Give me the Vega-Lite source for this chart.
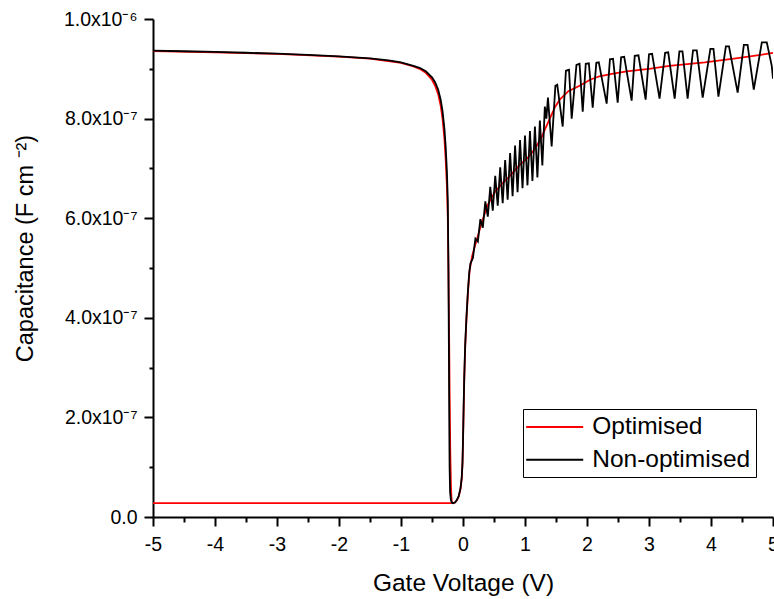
{
  "$schema": "https://vega.github.io/schema/vega-lite/v6.json",
  "width": 620,
  "height": 498,
  "autosize": "none",
  "padding": {"left": 153, "top": 19, "right": 1, "bottom": 82},
  "background": "white",
  "config": {
    "view": {"stroke": null},
    "font": "Liberation Sans"
  },
  "data": {
    "values": [
      {"s": "Optimised", "g": "low", "V": -5, "C": 0.028e-6},
      {"s": "Optimised", "g": "low", "V": -0.18, "C": 0.028e-6},

      {"s": "Optimised", "g": "main", "V": -5, "C": 0.9355e-6},
      {"s": "Optimised", "g": "main", "V": -4, "C": 0.933e-6},
      {"s": "Optimised", "g": "main", "V": -3, "C": 0.9298e-6},
      {"s": "Optimised", "g": "main", "V": -2, "C": 0.9245e-6},
      {"s": "Optimised", "g": "main", "V": -1.5, "C": 0.9205e-6},
      {"s": "Optimised", "g": "main", "V": -1.0, "C": 0.912e-6},
      {"s": "Optimised", "g": "main", "V": -0.8, "C": 0.905e-6},
      {"s": "Optimised", "g": "main", "V": -0.7, "C": 0.9e-6},
      {"s": "Optimised", "g": "main", "V": -0.6, "C": 0.892e-6},
      {"s": "Optimised", "g": "main", "V": -0.5, "C": 0.878e-6},
      {"s": "Optimised", "g": "main", "V": -0.45, "C": 0.866e-6},
      {"s": "Optimised", "g": "main", "V": -0.4, "C": 0.849e-6},
      {"s": "Optimised", "g": "main", "V": -0.36, "C": 0.826e-6},
      {"s": "Optimised", "g": "main", "V": -0.33, "C": 0.8e-6},
      {"s": "Optimised", "g": "main", "V": -0.3, "C": 0.76e-6},
      {"s": "Optimised", "g": "main", "V": -0.28, "C": 0.72e-6},
      {"s": "Optimised", "g": "main", "V": -0.26, "C": 0.665e-6},
      {"s": "Optimised", "g": "main", "V": -0.245, "C": 0.6e-6},
      {"s": "Optimised", "g": "main", "V": -0.235, "C": 0.5e-6},
      {"s": "Optimised", "g": "main", "V": -0.225, "C": 0.38e-6},
      {"s": "Optimised", "g": "main", "V": -0.215, "C": 0.24e-6},
      {"s": "Optimised", "g": "main", "V": -0.205, "C": 0.13e-6},
      {"s": "Optimised", "g": "main", "V": -0.195, "C": 0.065e-6},
      {"s": "Optimised", "g": "main", "V": -0.187, "C": 0.04e-6},
      {"s": "Optimised", "g": "main", "V": -0.18, "C": 0.03e-6},
      {"s": "Optimised", "g": "main", "V": -0.16, "C": 0.028e-6},
      {"s": "Optimised", "g": "main", "V": -0.13, "C": 0.029e-6},
      {"s": "Optimised", "g": "main", "V": -0.1, "C": 0.033e-6},
      {"s": "Optimised", "g": "main", "V": -0.07, "C": 0.041e-6},
      {"s": "Optimised", "g": "main", "V": -0.04, "C": 0.056e-6},
      {"s": "Optimised", "g": "main", "V": -0.02, "C": 0.078e-6},
      {"s": "Optimised", "g": "main", "V": -0.008, "C": 0.108e-6},
      {"s": "Optimised", "g": "main", "V": 0.0, "C": 0.15e-6},
      {"s": "Optimised", "g": "main", "V": 0.01, "C": 0.215e-6},
      {"s": "Optimised", "g": "main", "V": 0.02, "C": 0.275e-6},
      {"s": "Optimised", "g": "main", "V": 0.035, "C": 0.34e-6},
      {"s": "Optimised", "g": "main", "V": 0.055, "C": 0.395e-6},
      {"s": "Optimised", "g": "main", "V": 0.08, "C": 0.452e-6},
      {"s": "Optimised", "g": "main", "V": 0.108, "C": 0.497e-6},
      {"s": "Optimised", "g": "main", "V": 0.15, "C": 0.525e-6},
      {"s": "Optimised", "g": "main", "V": 0.19, "C": 0.543e-6},
      {"s": "Optimised", "g": "main", "V": 0.25, "C": 0.569e-6},
      {"s": "Optimised", "g": "main", "V": 0.3, "C": 0.591e-6},
      {"s": "Optimised", "g": "main", "V": 0.4, "C": 0.627e-6},
      {"s": "Optimised", "g": "main", "V": 0.51, "C": 0.652e-6},
      {"s": "Optimised", "g": "main", "V": 0.62, "C": 0.668e-6},
      {"s": "Optimised", "g": "main", "V": 0.75, "C": 0.684e-6},
      {"s": "Optimised", "g": "main", "V": 0.9, "C": 0.705e-6},
      {"s": "Optimised", "g": "main", "V": 1.05, "C": 0.722e-6},
      {"s": "Optimised", "g": "main", "V": 1.15, "C": 0.738e-6},
      {"s": "Optimised", "g": "main", "V": 1.25, "C": 0.758e-6},
      {"s": "Optimised", "g": "main", "V": 1.32, "C": 0.778e-6},
      {"s": "Optimised", "g": "main", "V": 1.4, "C": 0.8e-6},
      {"s": "Optimised", "g": "main", "V": 1.48, "C": 0.822e-6},
      {"s": "Optimised", "g": "main", "V": 1.56, "C": 0.838e-6},
      {"s": "Optimised", "g": "main", "V": 1.7, "C": 0.855e-6},
      {"s": "Optimised", "g": "main", "V": 1.88, "C": 0.866e-6},
      {"s": "Optimised", "g": "main", "V": 2.05, "C": 0.878e-6},
      {"s": "Optimised", "g": "main", "V": 2.2, "C": 0.885e-6},
      {"s": "Optimised", "g": "main", "V": 2.4, "C": 0.89e-6},
      {"s": "Optimised", "g": "main", "V": 2.64, "C": 0.895e-6},
      {"s": "Optimised", "g": "main", "V": 3.0, "C": 0.9e-6},
      {"s": "Optimised", "g": "main", "V": 3.33, "C": 0.906e-6},
      {"s": "Optimised", "g": "main", "V": 3.9, "C": 0.913e-6},
      {"s": "Optimised", "g": "main", "V": 4.4, "C": 0.921e-6},
      {"s": "Optimised", "g": "main", "V": 4.8, "C": 0.928e-6},
      {"s": "Optimised", "g": "main", "V": 5.0, "C": 0.932e-6},

      {"s": "Non-optimised", "g": "main", "V": -5, "C": 0.9365e-6},
      {"s": "Non-optimised", "g": "main", "V": -4.5, "C": 0.9352e-6},
      {"s": "Non-optimised", "g": "main", "V": -4, "C": 0.9338e-6},
      {"s": "Non-optimised", "g": "main", "V": -3.5, "C": 0.9322e-6},
      {"s": "Non-optimised", "g": "main", "V": -3, "C": 0.9303e-6},
      {"s": "Non-optimised", "g": "main", "V": -2.5, "C": 0.928e-6},
      {"s": "Non-optimised", "g": "main", "V": -2, "C": 0.925e-6},
      {"s": "Non-optimised", "g": "main", "V": -1.5, "C": 0.921e-6},
      {"s": "Non-optimised", "g": "main", "V": -1.2, "C": 0.917e-6},
      {"s": "Non-optimised", "g": "main", "V": -1.0, "C": 0.913e-6},
      {"s": "Non-optimised", "g": "main", "V": -0.8, "C": 0.906e-6},
      {"s": "Non-optimised", "g": "main", "V": -0.7, "C": 0.902e-6},
      {"s": "Non-optimised", "g": "main", "V": -0.6, "C": 0.895e-6},
      {"s": "Non-optimised", "g": "main", "V": -0.5, "C": 0.883e-6},
      {"s": "Non-optimised", "g": "main", "V": -0.45, "C": 0.873e-6},
      {"s": "Non-optimised", "g": "main", "V": -0.4, "C": 0.858e-6},
      {"s": "Non-optimised", "g": "main", "V": -0.36, "C": 0.838e-6},
      {"s": "Non-optimised", "g": "main", "V": -0.33, "C": 0.815e-6},
      {"s": "Non-optimised", "g": "main", "V": -0.3, "C": 0.78e-6},
      {"s": "Non-optimised", "g": "main", "V": -0.28, "C": 0.745e-6},
      {"s": "Non-optimised", "g": "main", "V": -0.26, "C": 0.695e-6},
      {"s": "Non-optimised", "g": "main", "V": -0.245, "C": 0.635e-6},
      {"s": "Non-optimised", "g": "main", "V": -0.235, "C": 0.5e-6},
      {"s": "Non-optimised", "g": "main", "V": -0.228, "C": 0.35e-6},
      {"s": "Non-optimised", "g": "main", "V": -0.222, "C": 0.2e-6},
      {"s": "Non-optimised", "g": "main", "V": -0.216, "C": 0.1e-6},
      {"s": "Non-optimised", "g": "main", "V": -0.208, "C": 0.05e-6},
      {"s": "Non-optimised", "g": "main", "V": -0.195, "C": 0.034e-6},
      {"s": "Non-optimised", "g": "main", "V": -0.18, "C": 0.029e-6},
      {"s": "Non-optimised", "g": "main", "V": -0.16, "C": 0.0275e-6},
      {"s": "Non-optimised", "g": "main", "V": -0.13, "C": 0.029e-6},
      {"s": "Non-optimised", "g": "main", "V": -0.1, "C": 0.034e-6},
      {"s": "Non-optimised", "g": "main", "V": -0.07, "C": 0.042e-6},
      {"s": "Non-optimised", "g": "main", "V": -0.04, "C": 0.058e-6},
      {"s": "Non-optimised", "g": "main", "V": -0.02, "C": 0.08e-6},
      {"s": "Non-optimised", "g": "main", "V": -0.008, "C": 0.11e-6},
      {"s": "Non-optimised", "g": "main", "V": 0.0, "C": 0.155e-6},
      {"s": "Non-optimised", "g": "main", "V": 0.01, "C": 0.22e-6},
      {"s": "Non-optimised", "g": "main", "V": 0.02, "C": 0.28e-6},
      {"s": "Non-optimised", "g": "main", "V": 0.035, "C": 0.345e-6},
      {"s": "Non-optimised", "g": "main", "V": 0.055, "C": 0.4e-6},
      {"s": "Non-optimised", "g": "main", "V": 0.08, "C": 0.455e-6},
      {"s": "Non-optimised", "g": "main", "V": 0.1, "C": 0.49e-6},
      {"s": "Non-optimised", "g": "main", "V": 0.12, "C": 0.509e-6},
      {"s": "Non-optimised", "g": "main", "V": 0.16, "C": 0.52e-6},
      {"s": "Non-optimised", "g": "main", "V": 0.2, "C": 0.559e-6},
      {"s": "Non-optimised", "g": "main", "V": 0.24, "C": 0.553e-6},
      {"s": "Non-optimised", "g": "main", "V": 0.28, "C": 0.598e-6},
      {"s": "Non-optimised", "g": "main", "V": 0.32, "C": 0.581e-6},
      {"s": "Non-optimised", "g": "main", "V": 0.36, "C": 0.634e-6},
      {"s": "Non-optimised", "g": "main", "V": 0.4, "C": 0.603e-6},
      {"s": "Non-optimised", "g": "main", "V": 0.44, "C": 0.663e-6},
      {"s": "Non-optimised", "g": "main", "V": 0.48, "C": 0.615e-6},
      {"s": "Non-optimised", "g": "main", "V": 0.52, "C": 0.685e-6},
      {"s": "Non-optimised", "g": "main", "V": 0.56, "C": 0.625e-6},
      {"s": "Non-optimised", "g": "main", "V": 0.6, "C": 0.702e-6},
      {"s": "Non-optimised", "g": "main", "V": 0.64, "C": 0.63e-6},
      {"s": "Non-optimised", "g": "main", "V": 0.68, "C": 0.717e-6},
      {"s": "Non-optimised", "g": "main", "V": 0.72, "C": 0.637e-6},
      {"s": "Non-optimised", "g": "main", "V": 0.76, "C": 0.731e-6},
      {"s": "Non-optimised", "g": "main", "V": 0.8, "C": 0.644e-6},
      {"s": "Non-optimised", "g": "main", "V": 0.84, "C": 0.746e-6},
      {"s": "Non-optimised", "g": "main", "V": 0.88, "C": 0.652e-6},
      {"s": "Non-optimised", "g": "main", "V": 0.92, "C": 0.757e-6},
      {"s": "Non-optimised", "g": "main", "V": 0.96, "C": 0.66e-6},
      {"s": "Non-optimised", "g": "main", "V": 1.0, "C": 0.766e-6},
      {"s": "Non-optimised", "g": "main", "V": 1.04, "C": 0.666e-6},
      {"s": "Non-optimised", "g": "main", "V": 1.08, "C": 0.775e-6},
      {"s": "Non-optimised", "g": "main", "V": 1.12, "C": 0.675e-6},
      {"s": "Non-optimised", "g": "main", "V": 1.16, "C": 0.784e-6},
      {"s": "Non-optimised", "g": "main", "V": 1.2, "C": 0.682e-6},
      {"s": "Non-optimised", "g": "main", "V": 1.24, "C": 0.796e-6},
      {"s": "Non-optimised", "g": "main", "V": 1.28, "C": 0.706e-6},
      {"s": "Non-optimised", "g": "main", "V": 1.32, "C": 0.824e-6},
      {"s": "Non-optimised", "g": "main", "V": 1.345, "C": 0.8e-6},
      {"s": "Non-optimised", "g": "main", "V": 1.37, "C": 0.842e-6},
      {"s": "Non-optimised", "g": "main", "V": 1.43, "C": 0.744e-6},
      {"s": "Non-optimised", "g": "main", "V": 1.49, "C": 0.866e-6},
      {"s": "Non-optimised", "g": "main", "V": 1.52, "C": 0.868e-6},
      {"s": "Non-optimised", "g": "main", "V": 1.608, "C": 0.784e-6},
      {"s": "Non-optimised", "g": "main", "V": 1.66, "C": 0.896e-6},
      {"s": "Non-optimised", "g": "main", "V": 1.71, "C": 0.898e-6},
      {"s": "Non-optimised", "g": "main", "V": 1.753, "C": 0.8e-6},
      {"s": "Non-optimised", "g": "main", "V": 1.83, "C": 0.908e-6},
      {"s": "Non-optimised", "g": "main", "V": 1.88, "C": 0.91e-6},
      {"s": "Non-optimised", "g": "main", "V": 1.931, "C": 0.814e-6},
      {"s": "Non-optimised", "g": "main", "V": 1.98, "C": 0.91e-6},
      {"s": "Non-optimised", "g": "main", "V": 2.03, "C": 0.911e-6},
      {"s": "Non-optimised", "g": "main", "V": 2.092, "C": 0.822e-6},
      {"s": "Non-optimised", "g": "main", "V": 2.15, "C": 0.912e-6},
      {"s": "Non-optimised", "g": "main", "V": 2.19, "C": 0.913e-6},
      {"s": "Non-optimised", "g": "main", "V": 2.317, "C": 0.83e-6},
      {"s": "Non-optimised", "g": "main", "V": 2.37, "C": 0.919e-6},
      {"s": "Non-optimised", "g": "main", "V": 2.42, "C": 0.92e-6},
      {"s": "Non-optimised", "g": "main", "V": 2.495, "C": 0.832e-6},
      {"s": "Non-optimised", "g": "main", "V": 2.55, "C": 0.923e-6},
      {"s": "Non-optimised", "g": "main", "V": 2.6, "C": 0.924e-6},
      {"s": "Non-optimised", "g": "main", "V": 2.72, "C": 0.836e-6},
      {"s": "Non-optimised", "g": "main", "V": 2.77, "C": 0.926e-6},
      {"s": "Non-optimised", "g": "main", "V": 2.83, "C": 0.927e-6},
      {"s": "Non-optimised", "g": "main", "V": 2.946, "C": 0.838e-6},
      {"s": "Non-optimised", "g": "main", "V": 3.0, "C": 0.929e-6},
      {"s": "Non-optimised", "g": "main", "V": 3.05, "C": 0.93e-6},
      {"s": "Non-optimised", "g": "main", "V": 3.17, "C": 0.84e-6},
      {"s": "Non-optimised", "g": "main", "V": 3.26, "C": 0.932e-6},
      {"s": "Non-optimised", "g": "main", "V": 3.31, "C": 0.933e-6},
      {"s": "Non-optimised", "g": "main", "V": 3.414, "C": 0.84e-6},
      {"s": "Non-optimised", "g": "main", "V": 3.49, "C": 0.935e-6},
      {"s": "Non-optimised", "g": "main", "V": 3.54, "C": 0.935e-6},
      {"s": "Non-optimised", "g": "main", "V": 3.623, "C": 0.84e-6},
      {"s": "Non-optimised", "g": "main", "V": 3.71, "C": 0.937e-6},
      {"s": "Non-optimised", "g": "main", "V": 3.77, "C": 0.937e-6},
      {"s": "Non-optimised", "g": "main", "V": 3.866, "C": 0.842e-6},
      {"s": "Non-optimised", "g": "main", "V": 3.99, "C": 0.94e-6},
      {"s": "Non-optimised", "g": "main", "V": 4.04, "C": 0.94e-6},
      {"s": "Non-optimised", "g": "main", "V": 4.12, "C": 0.844e-6},
      {"s": "Non-optimised", "g": "main", "V": 4.24, "C": 0.945e-6},
      {"s": "Non-optimised", "g": "main", "V": 4.29, "C": 0.945e-6},
      {"s": "Non-optimised", "g": "main", "V": 4.43, "C": 0.852e-6},
      {"s": "Non-optimised", "g": "main", "V": 4.53, "C": 0.948e-6},
      {"s": "Non-optimised", "g": "main", "V": 4.59, "C": 0.948e-6},
      {"s": "Non-optimised", "g": "main", "V": 4.69, "C": 0.858e-6},
      {"s": "Non-optimised", "g": "main", "V": 4.82, "C": 0.953e-6},
      {"s": "Non-optimised", "g": "main", "V": 4.9, "C": 0.953e-6},
      {"s": "Non-optimised", "g": "main", "V": 4.98, "C": 0.906e-6},
      {"s": "Non-optimised", "g": "main", "V": 5.0, "C": 0.88e-6}
    ]
  },
  "encoding": {
    "x": {
      "field": "V",
      "type": "quantitative",
      "scale": {"domain": [-5, 5], "nice": false, "zero": false},
      "axis": {
        "title": "Gate Voltage (V)",
        "values": [-5, -4.5, -4, -3.5, -3, -2.5, -2, -1.5, -1, -0.5, 0, 0.5, 1, 1.5, 2, 2.5, 3, 3.5, 4, 4.5, 5],
        "labelExpr": "datum.value % 1 != 0 ? '' : '' + datum.value",
        "grid": false,
        "domainColor": "#000000",
        "domainWidth": 2,
        "tickColor": "#000000",
        "tickWidth": 2,
        "tickSize": {"condition": {"test": "datum.value % 1 != 0", "value": 5}, "value": 9},
        "labelFont": "Liberation Sans",
        "labelFontSize": 19.5,
        "labelColor": "#000000",
        "labelBaseline": "alphabetic",
        "labelPadding": 24,
        "labelFlush": false,
        "labelOverlap": false,
        "labelBound": false,
        "titleFont": "Liberation Sans",
        "titleFontSize": 24.5,
        "titleFontWeight": "normal",
        "titleColor": "#000000",
        "titleBaseline": "alphabetic",
        "titleY": 73
      }
    },
    "y": {
      "field": "C",
      "type": "quantitative",
      "scale": {"domain": [0, 1e-6], "nice": false, "zero": false},
      "axis": {
        "title": "Capacitance (F cm ⁻²)",
        "values": [0, 1e-7, 2e-7, 3e-7, 4e-7, 5e-7, 6e-7, 7e-7, 8e-7, 9e-7, 1e-6],
        "labelExpr": "round(datum.value*1e7) % 2 == 1 ? '' : (datum.value < 1e-9 ? '0.0' : (round(datum.value*1e7) >= 10 ? format(datum.value*1e6, '.1f') + 'x10⁻⁶' : format(datum.value*1e7, '.1f') + 'x10⁻⁷'))",
        "grid": false,
        "domainColor": "#000000",
        "domainWidth": 2,
        "tickColor": "#000000",
        "tickWidth": 2,
        "tickSize": {"condition": {"test": "round(datum.value*1e7) % 2 == 1", "value": 4}, "value": 9},
        "labelFont": "Liberation Sans",
        "labelFontSize": 19.5,
        "labelColor": "#000000",
        "labelPadding": 7,
        "labelOverlap": false,
        "labelBound": false,
        "labelFlush": false,
        "titleFont": "Liberation Sans",
        "titleFontSize": 23.5,
        "titleFontWeight": "normal",
        "titleColor": "#000000",
        "titleBaseline": "alphabetic",
        "titleAngle": -90,
        "titleX": -121,
        "titleY": 229
      }
    },
    "color": {
      "field": "s",
      "type": "nominal",
      "scale": {"domain": ["Optimised", "Non-optimised"], "range": ["#ff0000", "#000000"]},
      "legend": {
        "title": null,
        "orient": "none",
        "legendX": 370,
        "legendY": 390,
        "padding": 5.5,
        "strokeColor": "#000000",
        "fillColor": "#ffffff",
        "symbolType": "M-2.48,0H2.48",
        "symbolSize": 529,
        "symbolStrokeWidth": 2,
        "symbolOffset": 13.7,
        "labelOffset": 25,
        "labelFont": "Liberation Sans",
        "labelFontSize": 24.5,
        "labelColor": "#000000",
        "rowPadding": 7.7
      }
    },
    "detail": {"field": "g", "type": "nominal"}
  },
  "layer": [
    {
      "transform": [{"filter": "datum.s == 'Optimised'"}],
      "mark": {"type": "line", "strokeWidth": 1.8, "clip": true}
    },
    {
      "transform": [{"filter": "datum.s == 'Non-optimised'"}],
      "mark": {"type": "line", "strokeWidth": 1.8, "clip": true}
    }
  ]
}
